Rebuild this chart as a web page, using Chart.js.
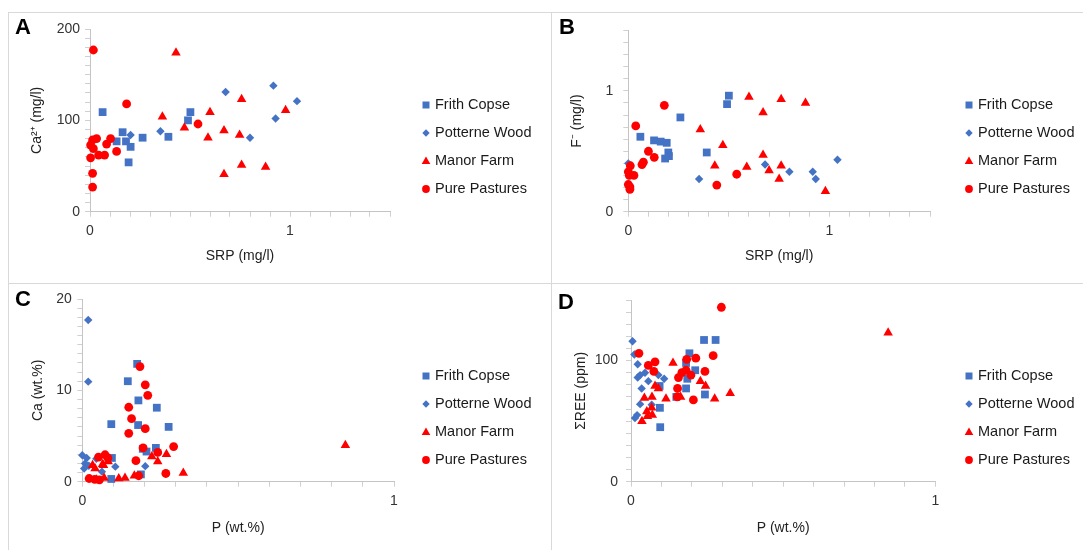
<!DOCTYPE html>
<html>
<head>
<meta charset="utf-8">
<script src="https://cdn.jsdelivr.net/npm/chart.js@4.4.0/dist/chart.umd.min.js"></script>
<style>
  body { margin: 0; background: #fff; }
  canvas { position: absolute; }
  .line { position: absolute; background: #d9d9d9; }
  .tag { position: absolute; font: bold 22px 'Liberation Sans', Arial, sans-serif; line-height: 22px; color: #000; }
</style>
</head>
<body>
<div class="line" style="left:8px;top:12px;width:1075px;height:1px"></div>
<div class="line" style="left:8px;top:283px;width:1075px;height:1px"></div>
<div class="line" style="left:8px;top:12px;width:1px;height:538px"></div>
<div class="line" style="left:551px;top:12px;width:1px;height:538px"></div>

<canvas id="chartA" width="543" height="271" style="left:8px;top:12px"></canvas>
<canvas id="chartB" width="532" height="271" style="left:551px;top:12px"></canvas>
<canvas id="chartC" width="543" height="267" style="left:8px;top:283px"></canvas>
<canvas id="chartD" width="532" height="267" style="left:551px;top:283px"></canvas>

<div class="tag" style="left:15px;top:16px">A</div>
<div class="tag" style="left:559px;top:16px">B</div>
<div class="tag" style="left:15px;top:288px">C</div>
<div class="tag" style="left:558px;top:291px">D</div>

<script>
const seriesNames = ['Frith Copse', 'Potterne Wood', 'Manor Farm', 'Pure Pastures'];
const seriesColors = ['#4472C4', '#4472C4', '#FF0000', '#FF0000'];
const seriesShapes = ['rect', 'rectRot', 'triangle', 'circle'];
const seriesSizes = [5.5, 4.2, 5.5, 4.4];

// A: SRP (mg/l) vs Ca2+ (mg/l)
const aFrith = [[0.063,109],[0.163,87],[0.133,77],[0.18,77],[0.203,71],[0.193,54],[0.263,81],[0.392,82],[0.502,109],[0.49,100]];
const aPotterne = [[0.203,84],[0.352,88],[0.678,131],[0.8,81],[0.917,138],[0.928,102],[1.035,121]];
const aManor = [[0.43,174],[0.362,104],[0.472,92],[0.6,109],[0.758,123],[0.67,89],[0.59,81],[0.748,84],[0.978,111],[0.67,41],[0.758,51],[0.878,49]];
const aPure = [[0.017,177],[0.183,118],[0.54,96],[0.013,78.5],[0.033,80],[0.103,80],[0.083,74],[0.003,73],[0.017,69],[0.043,62],[0.073,62],[0.133,66],[0.003,59],[0.013,42],[0.013,27]];

// B: SRP (mg/l) vs F- (mg/l)
const bFrith = [[0.5,0.96],[0.491,0.89],[0.259,0.78],[0.06,0.62],[0.128,0.59],[0.161,0.58],[0.191,0.57],[0.199,0.49],[0.202,0.46],[0.183,0.44],[0.39,0.49]];
const bPotterne = [[0,0.4],[0.352,0.27],[0.68,0.39],[0.801,0.33],[0.917,0.33],[0.932,0.27],[1.04,0.43]];
const bManor = [[0.6,0.95],[0.76,0.93],[0.881,0.9],[0.67,0.82],[0.358,0.68],[0.47,0.55],[0.67,0.47],[0.43,0.38],[0.589,0.37],[0.7,0.34],[0.76,0.38],[0.75,0.27],[0.98,0.17]];
const bPure = [[0.179,0.88],[0.037,0.71],[0.1,0.5],[0.129,0.45],[0.075,0.41],[0.068,0.39],[0.01,0.38],[0,0.33],[0.028,0.3],[0.005,0.3],[0,0.225],[0.008,0.205],[0.008,0.185],[0.44,0.22],[0.539,0.31]];

// C: P (wt.%) vs Ca (wt.%)
const cFrith = [[0.176,12.9],[0.146,11.0],[0.18,8.9],[0.239,8.1],[0.093,6.3],[0.179,6.2],[0.277,6.0],[0.194,3.6],[0.206,3.3],[0.236,3.7],[0.095,2.6],[0.188,0.8],[0.093,0.3]];
const cPotterne = [[0.019,17.7],[0.019,10.95],[0,2.9],[0.014,2.6],[0.009,2.0],[0.021,1.75],[0.006,1.45],[0.063,1.1],[0.106,1.65],[0.202,1.7],[0.045,2.5]];
const cManor = [[0.844,4.0],[0.324,0.95],[0.27,3.0],[0.242,2.2],[0.223,2.75],[0.167,0.65],[0.137,0.4],[0.117,0.35],[0.07,0.4],[0.046,0.2],[0.033,1.8],[0.041,1.45],[0.068,1.8],[0.083,2.2],[0.065,1.9]];
const cPure = [[0.185,12.6],[0.202,10.6],[0.21,9.45],[0.149,8.15],[0.158,6.9],[0.202,5.8],[0.149,5.3],[0.195,3.7],[0.293,3.85],[0.242,3.2],[0.172,2.3],[0.268,0.9],[0.181,0.65],[0.052,2.7],[0.073,2.95],[0.082,2.6],[0.022,0.35],[0.04,0.25],[0.055,0.2]];

// D: P (wt.%) vs total REE (ppm)
const dFrith = [[0.24,117],[0.278,117],[0.192,106],[0.181,98],[0.211,92],[0.185,85],[0.181,77],[0.243,72],[0.149,70],[0.094,79],[0.095,61],[0.096,45]];
const dPotterne = [[0.005,116],[0.011,105],[0.022,97],[0.046,90],[0.03,88],[0.022,86],[0.09,88],[0.109,85],[0.057,83],[0.035,77],[0.068,63.5],[0.03,64],[0.02,55],[0.013,52.5]];
const dManor = [[0.845,123],[0.326,73],[0.275,68.5],[0.245,79],[0.228,83],[0.138,98],[0.115,68.5],[0.163,70],[0.044,69],[0.079,79],[0.09,77],[0.069,70],[0.052,58],[0.068,61],[0.07,55],[0.054,54],[0.036,50]];
const dPure = [[0.297,144],[0.026,106],[0.27,104],[0.079,99],[0.057,96],[0.075,91],[0.213,102],[0.183,101],[0.156,86],[0.167,90],[0.181,92],[0.197,88],[0.243,91],[0.153,77],[0.152,70],[0.205,67.5]];

const fontFamily = '"Liberation Sans", Arial, sans-serif';

function drawMarker(ctx, shape, x, y, color) {
  ctx.fillStyle = color;
  ctx.beginPath();
  if (shape == 'rect') {
    ctx.rect(x - 3.5, y - 3.5, 7, 7);
  } else if (shape == 'rectRot') {
    ctx.moveTo(x, y - 3.7);
    ctx.lineTo(x + 3.7, y);
    ctx.lineTo(x, y + 3.7);
    ctx.lineTo(x - 3.7, y);
  } else if (shape == 'triangle') {
    ctx.moveTo(x, y - 4.5);
    ctx.lineTo(x + 4.3, y + 3);
    ctx.lineTo(x - 4.3, y + 3);
  } else {
    ctx.arc(x, y, 3.9, 0, Math.PI * 2);
  }
  ctx.closePath();
  ctx.fill();
}

// legend drawn to the right, as in the original sheet
const sideLegend = {
  id: 'sideLegend',
  afterDraw(chart) {
    const ctx = chart.ctx;
    ctx.save();
    ctx.font = '14.5px ' + fontFamily;
    ctx.textBaseline = 'middle';
    seriesNames.forEach((name, i) => {
      const y = 93 + i * 28;
      drawMarker(ctx, seriesShapes[i], 418, y, seriesColors[i]);
      ctx.fillStyle = '#1a1a1a';
      ctx.fillText(name, 427, y);
    });
    ctx.restore();
  }
};

function axis(o) {
  return {
    type: 'linear',
    min: o.min,
    max: o.max,
    afterFit: (s) => {
      if (s.isHorizontal()) s.height = o.size;
      else s.width = o.size;
    },
    ticks: {
      stepSize: o.step,
      autoSkip: false,
      maxRotation: 0,
      padding: o.pad,
      color: '#333',
      font: { family: fontFamily, size: 14 },
      callback: (v) => (Math.abs(v / o.major - Math.round(v / o.major)) < 1e-6 ? String(v) : '')
    },
    grid: { drawOnChartArea: false, tickLength: 5, color: '#d0d0d0' },
    border: { color: '#c4c4c4' },
    title: { display: true, text: o.title, color: '#222', font: { family: fontFamily, size: 14 }, padding: o.tpad }
  };
}

function makeChart(id, sets, pad, xo, yo) {
  new Chart(document.getElementById(id), {
    type: 'scatter',
    data: {
      datasets: sets.map((d, i) => ({
        label: seriesNames[i],
        data: d.map((p) => ({ x: p[0], y: p[1] })),
        pointStyle: seriesShapes[i],
        pointRadius: seriesSizes[i],
        pointBackgroundColor: seriesColors[i],
        pointBorderWidth: 0,
        clip: false,
        order: 4 - i
      }))
    },
    options: {
      responsive: false,
      animation: false,
      layout: { padding: pad },
      plugins: { legend: { display: false }, tooltip: { enabled: false } },
      scales: { x: axis(xo), y: axis(yo) }
    },
    plugins: [sideLegend]
  });
}

makeChart('chartA', [aFrith, aPotterne, aManor, aPure],
  { left: 0, top: 17, right: 161, bottom: 0 },
  { min: 0, max: 1.5, step: 0.1, major: 1, size: 71.3, pad: 6, title: 'SRP (mg/l)', tpad: { bottom: 18 } },
  { min: 0, max: 200, step: 10, major: 100, size: 82, pad: 5, title: 'Ca²⁺ (mg/l)', tpad: { top: 21 } });

makeChart('chartB', [bFrith, bPotterne, bManor, bPure],
  { left: 0, top: 17, right: 153, bottom: 0 },
  { min: 0, max: 1.5, step: 0.1, major: 1, size: 71.3, pad: 6, title: 'SRP (mg/l)', tpad: { bottom: 18 } },
  { min: 0, max: 1.5, step: 0.1, major: 1, size: 77.3, pad: 10, title: 'F⁻ (mg/l)', tpad: { top: 18 } });

makeChart('chartC', [cFrith, cPotterne, cManor, cPure],
  { left: 0, top: 16, right: 157, bottom: 0 },
  { min: 0, max: 1, step: 0.1, major: 1, size: 68.3, pad: 6, title: 'P (wt.%)', tpad: { bottom: 13.3 } },
  { min: 0, max: 20, step: 1, major: 10, size: 74.3, pad: 5.5, title: 'Ca (wt.%)', tpad: { top: 22 } });

makeChart('chartD', [dFrith, dPotterne, dManor, dPure],
  { left: 0, top: 17, right: 147.7, bottom: 0 },
  { min: 0, max: 1, step: 0.1, major: 1, size: 68.3, pad: 6, title: 'P (wt.%)', tpad: { bottom: 13.3 } },
  { min: 0, max: 150, step: 10, major: 100, size: 80, pad: 8, title: 'ΣREE (ppm)', tpad: { top: 21.5 } });
</script>
</body>
</html>
